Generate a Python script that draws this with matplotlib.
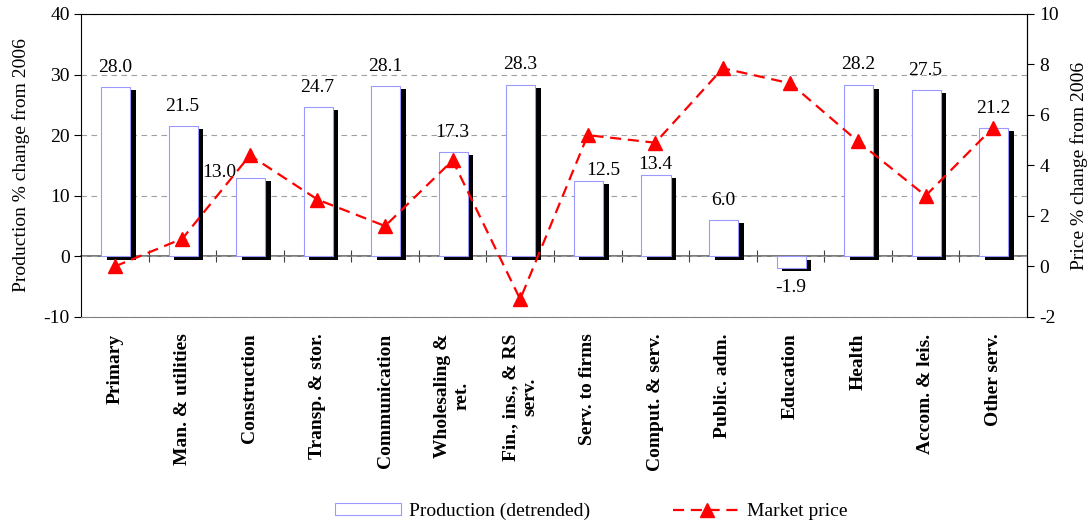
import matplotlib
matplotlib.use('Agg')
from matplotlib import pyplot as plt
from matplotlib import patheffects as pe
from matplotlib.lines import Line2D
from matplotlib.patches import Patch
import numpy as np

plt.rcParams['font.family'] = ['Liberation Serif', 'DejaVu Serif']
plt.rcParams['font.size'] = 14
plt.rcParams['axes.unicode_minus'] = False

# Data
sectors = ['Primary', 'Man. & utilities', 'Construction', 'Transp. & stor.',
           'Communication', 'Wholesaling &\nret.', 'Fin., ins., & RS\nserv.',
           'Serv. to firms', 'Comput. & serv.', 'Public. adm.', 'Education',
           'Health', 'Accom. & leis.', 'Other serv.']
production = [28.0, 21.5, 13.0, 24.7, 28.1, 17.3, 28.3, 12.5, 13.4, 6.0, -1.9, 28.2, 27.5, 21.2]
price = [0.0, 1.1, 4.4, 2.65, 1.6, 4.2, -1.3, 5.2, 4.9, 7.85, 7.25, 4.95, 2.8, 5.5]

# label placement tweaks (points) relative to the bar end
label_dx = [0, 0, -22, 0, 0, 0, 0, 11, 0, 0, 0, 0, 0, 0]
label_dy = [14, 14, 4, 14, 14, 14, 15, 7, 8, 14, 14, 15, 14, 14]

x = np.arange(len(sectors))

fig = plt.figure(figsize=(10.89, 5.23), dpi=100)
ax = fig.add_axes([0.0744, 0.394, 0.8686, 0.5793])
ax2 = ax.twinx()

ax.set_axisbelow(True)
ax.yaxis.grid(True, color='#a0a0a0', linestyle=(0, (5, 4)), linewidth=0.8)

bars = ax.bar(x + 0.01, production, width=0.43, color='white', edgecolor='#9999ff',
              linewidth=0.8, zorder=2)
for b in bars:
    b.set_path_effects([pe.SimplePatchShadow(offset=(4.0, -2.4), shadow_rgbFace='black', alpha=1.0),
                        pe.Normal()])

for i, v in enumerate(production):
    sign = 1 if v >= 0 else -1
    ax.annotate('%.1f' % v, (x[i], v), xytext=(label_dx[i], sign * label_dy[i]),
                textcoords='offset points', ha='center', va='center', fontsize=14)

ax.set_xlim(-0.5, len(sectors) - 0.5)
ax.set_ylim(-10, 40)
ax.set_yticks(np.arange(-10, 41, 10))
ax.set_xticks(x)
ax.set_xticklabels(sectors, rotation=90, fontweight='bold', ma='center', fontsize=14)
ax.tick_params(axis='x', length=0, pad=12)
ax.tick_params(axis='y', direction='out', length=5, labelsize=14, pad=3)
ax.set_ylabel('Production % change from 2006', fontsize=14, labelpad=10)

for s in ['top', 'left']:
    ax.spines[s].set_color('black')
ax.spines['bottom'].set_color('#808080')

# category axis crossing at zero
zero_ax = ax.secondary_xaxis(0.2)
zero_ax.set_xticks(np.arange(-0.5, len(sectors) - 0.4, 1.0)[1:-1])
zero_ax.set_xticklabels([])
zero_ax.tick_params(direction='inout', length=9, width=0.8, color='#404040')
zero_ax.spines['bottom'].set_color('#606060')
zero_ax.spines['bottom'].set_linewidth(1.2)

ax2.plot(x, price, color='red', linestyle=(0, (5, 3)), linewidth=1.6,
         marker='^', markersize=10, markeredgecolor='red', zorder=5)
ax2.set_ylim(-2, 10)
ax2.set_yticks(np.arange(-2, 11, 2))
ax2.tick_params(axis='y', direction='out', length=5, labelsize=14, pad=4)
ax2.set_ylabel('Price % change from 2006', fontsize=14, labelpad=8)
ax2.spines['right'].set_color('black')
ax2.spines['bottom'].set_visible(False)
ax2.spines['top'].set_visible(False)
ax2.spines['left'].set_visible(False)

handles = [Patch(facecolor='white', edgecolor='#9999ff', linewidth=0.8),
           Line2D([], [], color='red', linestyle=(0, (5, 3)), linewidth=1.6,
                  marker='^', markersize=10)]
fig.legend(handles, ['Production (detrended)', 'Market price'], loc='center',
           bbox_to_anchor=(0.543, 0.022), ncol=2, frameon=False, fontsize=14,
           handlelength=3.4, handleheight=0.6, handletextpad=0.4, columnspacing=4.3)

plt.savefig('out.png', dpi=100)
